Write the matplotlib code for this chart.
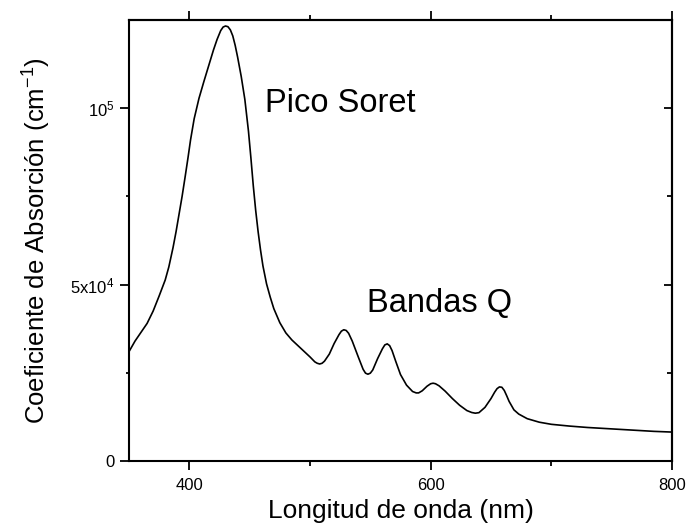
import matplotlib
matplotlib.use("Agg")
import matplotlib.pyplot as plt
from matplotlib.ticker import FixedLocator, FuncFormatter

plt.rcParams['font.family'] = ['Liberation Sans', 'DejaVu Sans']
plt.rcParams['mathtext.fontset'] = 'custom'
plt.rcParams['mathtext.rm'] = 'Liberation Sans'
plt.rcParams['mathtext.it'] = 'Liberation Sans'

# Data (wavelength in nm, absorption coefficient in cm^-1)
wavelength = [350, 355, 360, 365, 370, 375, 380, 383, 386.5, 389, 391.5, 394, 396.5,
              399, 401, 404, 408, 412, 416, 420, 423, 426, 428, 430, 432, 434,
              436, 438, 440, 443, 446, 449, 451, 453, 455, 457, 459, 461, 464,
              467, 470, 475, 480, 485, 490, 495, 500, 504, 506, 508, 510, 512, 516, 520,
              524, 526, 528, 530, 532, 535, 540, 544, 546, 548, 550, 552, 556, 560,
              562, 564, 566, 568, 571, 575, 580, 585, 588, 590, 593, 597, 600,
              602, 604, 607, 612, 618, 624, 630, 634, 637, 640, 645, 650, 653,
              655, 657, 659, 661, 663, 665, 669, 673, 680, 690, 700, 715,
              730, 750, 770, 785, 800]
absorption = [31000, 34000, 36500, 39000, 42500, 46800, 51300, 55000, 60500, 65000, 70000, 75000, 80500,
              86200, 91000, 97000, 102800, 107500, 112000, 116500, 119500, 122000, 123000, 123300, 123100, 122200,
              120500, 117800, 114500, 109000, 102500, 93500, 86000, 78000, 71000, 65000, 59800, 55300, 50200,
              46500, 43200, 39200, 36300, 34300, 32700, 31100, 29500, 28100, 27700, 27500, 27700, 28300, 30300, 33300,
              35800, 36800, 37200, 37000, 36200, 34000, 29500, 26000, 24900, 24600, 24900, 25800, 29000, 31800,
              32900, 33200, 32700, 31300, 28300, 24500, 21500, 19700, 19300, 19300, 19900, 21200, 21900,
              22050, 21900, 21300, 19800, 17700, 15800, 14300, 13750, 13550, 13700, 15200, 17700, 19500,
              20500, 21000, 20900, 20000, 18500, 16900, 14500, 13300, 12000, 11000, 10400, 9900,
              9500, 9100, 8700, 8400, 8200]

x_major = [400, 600, 800]
x_minor = [500, 700]
y_major = [0, 50000, 100000]
y_minor = [25000, 75000]
y_labels = {0: '0', 50000: r'5x10$^{4}$', 100000: r'10$^{5}$'}

fig = plt.figure(figsize=(6.87, 5.27), dpi=100)
ax = fig.add_axes([129/687, 1-461/527, (672-129)/687, (461-20)/527])

ax.plot(wavelength, absorption, color='black', lw=1.2, solid_joinstyle='round')
ax.set_xlim(350, 800)
ax.set_ylim(0, 125000)

ax.xaxis.set_major_locator(FixedLocator(x_major))
ax.xaxis.set_minor_locator(FixedLocator(x_minor))
ax.yaxis.set_major_locator(FixedLocator(y_major))
ax.yaxis.set_minor_locator(FixedLocator(y_minor))
ax.yaxis.set_major_formatter(FuncFormatter(lambda v, p: y_labels.get(int(round(v)), '')))

for s in ax.spines.values():
    s.set_linewidth(1.5)

ax.tick_params(which='major', direction='out', length=6.5, width=1.3, labelsize=12, pad=4)
ax.tick_params(axis='x', which='minor', direction='out', length=3.5, width=1.3)
ax.tick_params(axis='y', which='minor', direction='out', length=2.5, width=1.3)
ax.tick_params(axis='x', pad=6)

# top axis (ticks outward, no labels)
top = ax.secondary_xaxis('top')
top.xaxis.set_major_locator(FixedLocator(x_major))
top.xaxis.set_minor_locator(FixedLocator(x_minor))
top.tick_params(which='major', direction='out', length=6.5, width=1.3, labeltop=False)
top.tick_params(which='minor', direction='out', length=3.5, width=1.3)
top.spines['top'].set_linewidth(1.5)

# right axis (ticks inward, no labels)
right = ax.secondary_yaxis('right')
right.yaxis.set_major_locator(FixedLocator(y_major))
right.yaxis.set_minor_locator(FixedLocator(y_minor))
right.tick_params(which='major', direction='in', length=5.5, width=1.3, labelright=False)
right.tick_params(which='minor', direction='in', length=3.5, width=1.3)
right.spines['right'].set_linewidth(1.5)

ax.set_xlabel('Longitud de onda (nm)', fontsize=19, labelpad=4)
ax.set_ylabel('Coeficiente de Absorción (cm$^{-1}$)', fontsize=18.5, labelpad=12)

ax.text(462.4, 98900, 'Pico Soret', fontsize=23.5, ha='left', va='baseline')
ax.text(547.5, 42200, 'Bandas Q', fontsize=23.5, ha='left', va='baseline')

fig.savefig('out.png', dpi=100)
